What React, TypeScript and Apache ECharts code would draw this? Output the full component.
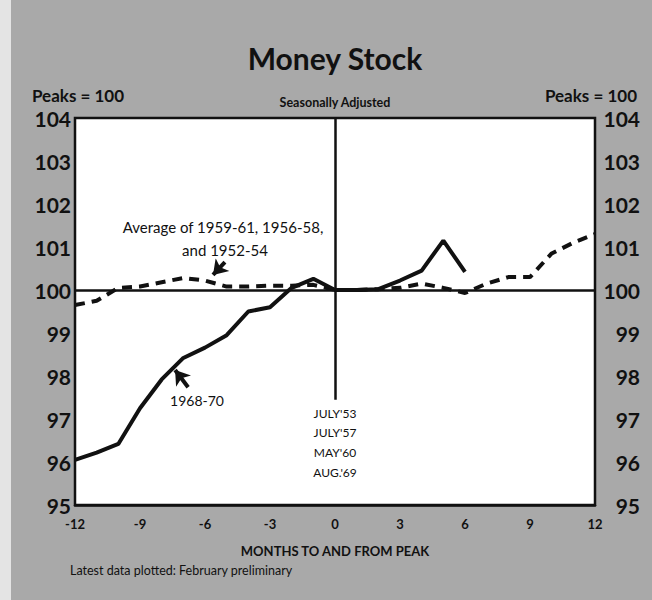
import React, { useEffect, useRef } from "react";
import * as echarts from "echarts";

const months = [-12, -11, -10, -9, -8, -7, -6, -5, -4, -3, -2, -1, 0, 1, 2, 3, 4, 5, 6, 7, 8, 9, 10, 11, 12];
const recent1968_70 = [96.05, 96.22, 96.42, 97.25, 97.92, 98.42, 98.66, 98.95, 99.5, 99.6, 100.05, 100.26, 100.0, 100.0, 100.02, 100.22, 100.45, 101.15, 100.42];
const average3Cycles = [99.65, 99.75, 100.05, 100.08, 100.18, 100.28, 100.22, 100.08, 100.08, 100.1, 100.1, 100.12, 100.0, 100.0, 100.02, 100.05, 100.15, 100.05, 99.93, 100.15, 100.3, 100.3, 100.85, 101.1, 101.3];
const peakDates = ["JULY'53", "JULY'57", "MAY'60", "AUG.'69"];
const yMin = 95;
const yMax = 104;

const FONT = "Lato, 'DejaVu Sans', sans-serif";
const INK = "#111111";

export default function App() {
  const ref = useRef<HTMLDivElement>(null);
  useEffect(() => {
    document.body.style.margin = "0";
    const chart = echarts.init(ref.current!, null, { renderer: "svg" });
    const solid = recent1968_70.map((v, i) => [months[i], v]);
    const dashed = average3Cycles.map((v, i) => [months[i], v]);
    const gLeft = 75, gRight = 595, gTop = 118, gBottom = 505;
    const cx = (gLeft + gRight) / 2;
    const txt = (text: string, x: number, y: number, size: number, weight: string, align = "center", bg?: string) => ({
      type: "text",
      z: 50,
      style: {
        text, x, y, textAlign: align, textVerticalAlign: "middle",
        fontSize: size, fontWeight: weight, fontFamily: FONT, fill: INK,
        backgroundColor: bg, padding: bg ? [1, 3] : 0,
      },
    });
    const option: any = {
      animation: false,
      backgroundColor: "#a9a9a9",
      grid: {
        left: gLeft, right: 652 - gRight, top: gTop, bottom: 600 - gBottom,
        show: true, backgroundColor: "#ffffff", borderColor: INK, borderWidth: 2.5, z: 1,
      },
      xAxis: {
        type: "value", min: -12, max: 12, interval: 3,
        axisLine: { show: true, lineStyle: { color: INK, width: 2.5 } },
        axisTick: { show: true, inside: true, length: 20, lineStyle: { color: INK, width: 1.5 } },
        minorTick: { show: true, splitNumber: 3, length: 9, lineStyle: { color: INK, width: 1.2 } },
        axisLabel: { color: INK, fontSize: 13, fontWeight: "bold", fontFamily: FONT, margin: 12 },
        splitLine: { show: false },
      },
      yAxis: [
        {
          type: "value", min: yMin, max: yMax, interval: 1, position: "left",
          axisLine: { show: false }, axisTick: { show: false },
          splitLine: { show: true, lineStyle: { color: "#222", width: 1.2 } },
          axisLabel: { color: INK, fontSize: 21, fontWeight: "bold", fontFamily: FONT, margin: 4 },
        },
        {
          type: "value", min: yMin, max: yMax, interval: 1, position: "right",
          axisLine: { show: false }, axisTick: { show: false }, splitLine: { show: false },
          axisLabel: { color: INK, fontSize: 21, fontWeight: "bold", fontFamily: FONT, margin: 45, align: "right" },
        },
      ],
      series: [
        {
          name: "1968-70", type: "line", data: solid, symbol: "none", z: 10,
          lineStyle: { color: INK, width: 4 },
          markLine: {
            silent: true, symbol: "none", label: { show: false }, z: 5,
            lineStyle: { color: INK, width: 2.5, type: "solid" },
            data: [
              { yAxis: 100 },
              [{ coord: [0, yMax] }, { coord: [0, 97.45] }],
              [
                { coord: [-6.78, 97.74], symbol: "none" },
                { coord: [-7.38, 98.14], symbol: "arrow", symbolSize: 14, lineStyle: { width: 4 } },
              ],
            ],
          },
        },
        {
          name: "Average", type: "line", data: dashed, symbol: "none", z: 9,
          lineStyle: { color: INK, width: 4, type: [10, 7] },
          markLine: {
            silent: true, symbol: "none", label: { show: false },
            lineStyle: { color: INK, width: 4, type: "solid" },
            data: [
              [
                { coord: [-5.08, 100.65], symbol: "none" },
                { coord: [-5.63, 100.35], symbol: "arrow", symbolSize: 14 },
              ],
            ],
          },
        },
      ],
      graphic: [
        { type: "rect", z: 0, shape: { x: 0, y: 0, width: 11, height: 600 }, style: { fill: "#e4e4e4" } },
        txt("Money Stock", cx, 58, 30, "bold"),
        txt("Peaks = 100", 32, 95, 17, "bold", "left"),
        txt("Peaks = 100", 637, 95, 17, "bold", "right"),
        txt("Seasonally Adjusted", cx, 102, 12.5, "bold"),
        txt("Average of 1959-61, 1956-58,", 223, 227, 15, "normal", "center", "#ffffff"),
        txt("and 1952-54", 225, 250, 15, "normal", "center", "#ffffff"),
        txt("1968-70", 197, 400, 14, "normal"),
        ...peakDates.map((d, i) => txt(d, cx, 413 + i * 19.7, 12, "normal", "center", "#ffffff")),
        txt("MONTHS TO AND FROM PEAK", cx, 551, 13, "bold"),
        txt("Latest data plotted: February preliminary", 70, 570, 12.5, "normal", "left"),
      ],
    };
    chart.setOption(option);
    return () => chart.dispose();
  }, []);
  return <div ref={ref} style={{ width: 652, height: 600 }} />;
}
